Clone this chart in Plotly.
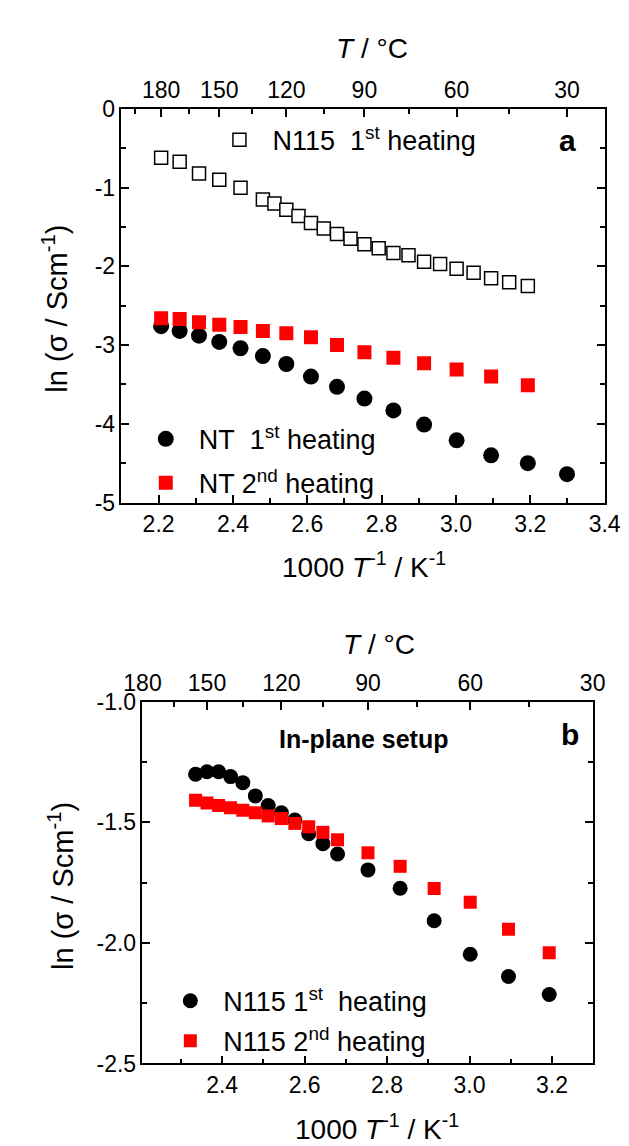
import plotly.graph_objects as go

W, H = 629, 1146

# ---------------- data ----------------
# x = 1000/T (K^-1)
top_n115_x = [2.2068, 2.2566, 2.3087, 2.3632, 2.4204, 2.4805, 2.5116, 2.5436, 2.5763, 2.6099,
              2.6444, 2.6799, 2.7163, 2.7537, 2.7921, 2.8317, 2.8723, 2.9142, 2.9573, 3.0017,
              3.0474, 3.0945, 3.1431, 3.1933]
top_n115_y = [-0.62, -0.67, -0.82, -0.90, -1.00, -1.15, -1.20, -1.28, -1.36, -1.45,
              -1.52, -1.59, -1.65, -1.72, -1.77, -1.83, -1.86, -1.94, -1.97, -2.03,
              -2.08, -2.15, -2.20, -2.25]

top_nt1_x = [2.2068, 2.2566, 2.3087, 2.3632, 2.4204, 2.4805, 2.5436, 2.6099, 2.6799, 2.7537,
             2.8317, 2.9142, 3.0017, 3.0945, 3.1933, 3.2987]
top_nt1_y = [-2.76, -2.82, -2.88, -2.96, -3.04, -3.14, -3.24, -3.40, -3.53, -3.68,
             -3.83, -4.01, -4.21, -4.40, -4.50, -4.64]

top_nt2_x = [2.2068, 2.2566, 2.3087, 2.3632, 2.4204, 2.4805, 2.5436, 2.6099, 2.6799, 2.7537,
             2.8317, 2.9142, 3.0017, 3.0945, 3.1933]
top_nt2_y = [-2.66, -2.67, -2.71, -2.74, -2.77, -2.82, -2.85, -2.90, -3.00, -3.09,
             -3.16, -3.23, -3.31, -3.40, -3.51]

bot_x = [2.3355, 2.3632, 2.3914, 2.4204, 2.4501, 2.4805, 2.5116, 2.5436, 2.5763, 2.6099,
         2.6444, 2.6799, 2.7537, 2.8317, 2.9142, 3.0017, 3.0945, 3.1933]
bot_n1_y = [-1.30, -1.29, -1.29, -1.31, -1.335, -1.39, -1.43, -1.46, -1.49, -1.547,
            -1.588, -1.631, -1.697, -1.773, -1.908, -2.047, -2.139, -2.214]
bot_n2_y = [-1.408, -1.419, -1.43, -1.439, -1.449, -1.46, -1.473, -1.484, -1.504, -1.518,
            -1.541, -1.572, -1.626, -1.682, -1.774, -1.831, -1.943, -2.041]

# tick labels
top_x_ticks = [2.2, 2.4, 2.6, 2.8, 3.0, 3.2, 3.4]
top_x_text = ["2.2", "2.4", "2.6", "2.8", "3.0", "3.2", "3.4"]
top_y_ticks = [0, -1, -2, -3, -4, -5]
top_y_text = ["0", "-1", "-2", "-3", "-4", "-5"]
bot_x_ticks = [2.4, 2.6, 2.8, 3.0, 3.2]
bot_x_text = ["2.4", "2.6", "2.8", "3.0", "3.2"]
bot_y_ticks = [-1.0, -1.5, -2.0, -2.5]
bot_y_text = ["-1.0", "-1.5", "-2.0", "-2.5"]
tc_major = [180, 150, 120, 90, 60, 30]
tc_minor_top = [195, 165, 135, 105, 75, 45]
tc_minor_bot = [165, 135, 105, 75, 45]

def inv(tc):
    return 1000.0 / (tc + 273.15)

FONT = "Liberation Sans, Arial, sans-serif"
BLACK = "#000000"
RED = "#FF0000"

def px(x):
    return x / W

def py(y):
    return 1 - y / H

fig = go.Figure()

fig.add_trace(go.Scatter(x=top_n115_x, y=top_n115_y, mode="markers", xaxis="x", yaxis="y",
                         name="N115\u00a0\u00a01<sup>st</sup> heating", legend="legend",
                         marker=dict(symbol="square", size=13, color="white",
                                     line=dict(color=BLACK, width=1.5))))
fig.add_trace(go.Scatter(x=top_nt1_x, y=top_nt1_y, mode="markers", xaxis="x", yaxis="y",
                         name="NT\u00a0\u00a01<sup>st</sup> heating", legend="legend2",
                         marker=dict(symbol="circle", size=16, color=BLACK)))
fig.add_trace(go.Scatter(x=top_nt2_x, y=top_nt2_y, mode="markers", xaxis="x", yaxis="y",
                         name="NT 2<sup>nd</sup> heating", legend="legend3",
                         marker=dict(symbol="square", size=14, color=RED)))
fig.add_trace(go.Scatter(x=bot_x, y=bot_n1_y, mode="markers", xaxis="x3", yaxis="y2",
                         name="N115 1<sup>st</sup>\u00a0 heating", legend="legend4",
                         marker=dict(symbol="circle", size=15, color=BLACK)))
fig.add_trace(go.Scatter(x=bot_x, y=bot_n2_y, mode="markers", xaxis="x3", yaxis="y2",
                         name="N115 2<sup>nd</sup> heating", legend="legend5",
                         marker=dict(symbol="square", size=13, color=RED)))
# invisible companions so the temperature (top) axes get drawn
fig.add_trace(go.Scatter(x=top_nt1_x, y=top_nt1_y, mode="markers", xaxis="x2", yaxis="y",
                         marker=dict(opacity=0), showlegend=False, hoverinfo="skip"))
fig.add_trace(go.Scatter(x=bot_x, y=bot_n1_y, mode="markers", xaxis="x4", yaxis="y2",
                         marker=dict(opacity=0), showlegend=False, hoverinfo="skip"))

tickfont = dict(family=FONT, size=23, color=BLACK)
common = dict(showline=True, linewidth=1.5, linecolor=BLACK, ticks="inside", ticklen=8,
              tickwidth=1.5, tickcolor=BLACK, showgrid=False, zeroline=False, tickfont=tickfont)
minor_common = dict(ticks="inside", ticklen=5, tickwidth=1.5, tickcolor=BLACK, showgrid=False)

top_dom_x = [px(100), px(611.7)]
top_dom_y = [py(492.7), py(90)]
bot_dom_x = [px(122.3), px(599)]
bot_dom_y = [py(1066.7), py(696.7)]
top_range = [2.1, 3.4]
bot_range = [inv(180), inv(30)]

fig.update_layout(
    width=W, height=H, margin=dict(l=0, r=0, t=0, b=0), showlegend=True,
    paper_bgcolor="white", plot_bgcolor="white", font=dict(family=FONT, color=BLACK),
    xaxis=dict(domain=top_dom_x, range=top_range, anchor="y", tickmode="array",
               tickvals=top_x_ticks, ticktext=top_x_text, mirror=True,
               minor=dict(dtick=0.1, tick0=2.1, **minor_common), **common),
    xaxis2=dict(domain=top_dom_x, range=top_range, anchor="y", overlaying="x", side="top",
                tickmode="array", tickvals=[inv(t) for t in tc_major], ticktext=[str(t) for t in tc_major],
                minor=dict(tickmode="array", tickvals=[inv(t) for t in tc_minor_top], **minor_common),
                **common),
    yaxis=dict(domain=top_dom_y, range=[-5, 0], anchor="x", tickmode="array",
               tickvals=top_y_ticks, ticktext=top_y_text, mirror="ticks",
               minor=dict(dtick=0.5, tick0=0, **minor_common), **common),
    xaxis3=dict(domain=bot_dom_x, range=bot_range, anchor="y2", tickmode="array",
                tickvals=bot_x_ticks, ticktext=bot_x_text, mirror=True,
                minor=dict(dtick=0.1, tick0=2.3, **minor_common), **common),
    xaxis4=dict(domain=bot_dom_x, range=bot_range, anchor="y2", overlaying="x3", side="top",
                tickmode="array", tickvals=[inv(t) for t in tc_major], ticktext=[str(t) for t in tc_major],
                minor=dict(tickmode="array", tickvals=[inv(t) for t in tc_minor_bot], **minor_common),
                **common),
    yaxis2=dict(domain=bot_dom_y, range=[-2.5, -1.0], anchor="x3", tickmode="array",
                tickvals=bot_y_ticks, ticktext=bot_y_text, mirror="ticks",
                minor=dict(dtick=0.25, tick0=-1.0, **minor_common), **common),
)

legfont = dict(family=FONT, size=27, color=BLACK)

def leg(xp, yp):
    return dict(x=px(xp), y=py(yp), xanchor="left", yanchor="middle", xref="paper", yref="paper",
                bgcolor="rgba(0,0,0,0)", borderwidth=0, font=legfont, itemsizing="trace",
                itemwidth=56)

fig.update_layout(
    legend=leg(190, 122),
    legend2=leg(112, 428),
    legend3=leg(112, 473),
    legend4=leg(138, 1003),
    legend5=leg(138, 1044),
)

ann = []
title_font = dict(family=FONT, size=28, color=BLACK)
ann.append(dict(text="<i>T</i> / °C", x=px(365), y=py(28), showarrow=False, font=title_font,
                xanchor="center", yanchor="middle"))
ann.append(dict(text="1000 <i>T</i><sup>-1</sup> / K<sup>-1</sup>", x=px(357), y=py(557), showarrow=False,
                font=title_font, xanchor="center", yanchor="middle"))
ann.append(dict(text="ln (σ / Scm<sup>-1</sup>)", x=px(30), y=py(294), showarrow=False,
                font=dict(family=FONT, size=29, color=BLACK),
                textangle=-90, xanchor="center", yanchor="middle"))
ann.append(dict(text="<b>a</b>", x=px(572), y=py(122), showarrow=False,
                font=dict(family=FONT, size=30, color=BLACK), xanchor="center", yanchor="middle"))
ann.append(dict(text="<i>T</i> / °C", x=px(373), y=py(638), showarrow=False, font=title_font,
                xanchor="center", yanchor="middle"))
ann.append(dict(text="1000 <i>T</i><sup>-1</sup> / K<sup>-1</sup>", x=px(371), y=py(1132), showarrow=False,
                font=title_font, xanchor="center", yanchor="middle"))
ann.append(dict(text="ln (σ / Scm<sup>-1</sup>)", x=px(36), y=py(885), showarrow=False,
                font=dict(family=FONT, size=29, color=BLACK),
                textangle=-90, xanchor="center", yanchor="middle"))
ann.append(dict(text="<b>b</b>", x=px(575), y=py(730), showarrow=False,
                font=dict(family=FONT, size=30, color=BLACK), xanchor="center", yanchor="middle"))
ann.append(dict(text="<b>In-plane setup</b>", x=px(356), y=py(735), showarrow=False,
                font=dict(family=FONT, size=25, color=BLACK), xanchor="center", yanchor="middle"))
for a in ann:
    a["xref"] = "paper"
    a["yref"] = "paper"
fig.update_layout(annotations=ann)

fig.write_html("out.html")
